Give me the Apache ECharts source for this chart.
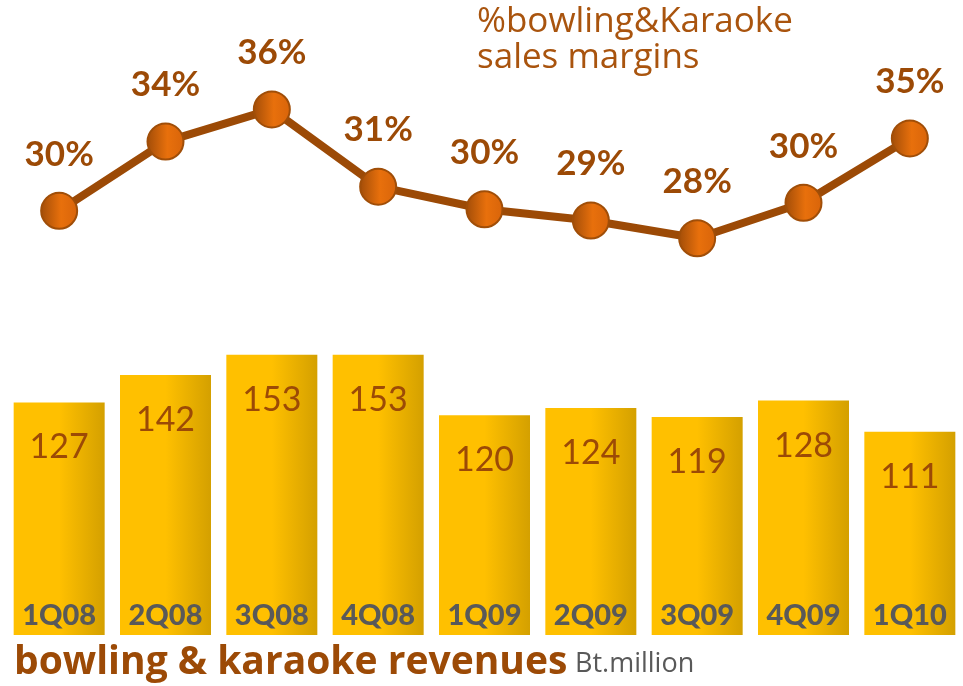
<!DOCTYPE html>
<html><head><meta charset="utf-8">
<script src="https://cdn.jsdelivr.net/npm/echarts@6/dist/echarts.min.js"></script>
<style>html,body{margin:0;padding:0;background:#fff}#c{width:963px;height:686px}</style>
</head><body><div id="c"></div>
<script>
const quarters = ['1Q08','2Q08','3Q08','4Q08','1Q09','2Q09','3Q09','4Q09','1Q10'];
const revenues = [127, 142, 153, 153, 120, 124, 119, 128, 111];
const marginPct = [29.7, 34.0, 36.0, 31.2, 29.8, 29.1, 28.0, 30.2, 34.2];
const marginLabels = ['30%','34%','36%','31%','30%','29%','28%','30%','35%'];
const titleTop = ['%bowling&Karaoke', 'sales margins'];
const titleBottom = 'bowling & karaoke revenues';
const unitText = 'Bt.million';

const FONT = 'Lato';
const FONT2 = '"Open Sans"';
const brown = '#9C4A06';
const chart = echarts.init(document.getElementById('c'));
chart.setOption({
  animation: false,
  grid: [
    {left: 6, right: -4, top: 342, height: 293},
    {left: 6, right: -4, top: 45, height: 322}
  ],
  xAxis: [
    {type: 'category', gridIndex: 0, data: quarters,
     axisLine: {show: false}, axisTick: {show: false},
     axisLabel: {inside: true, margin: 5, color: '#595959', fontFamily: FONT, fontWeight: 900, fontSize: 29},
     z: 10},
    {type: 'category', gridIndex: 1, data: quarters, show: false}
  ],
  yAxis: [
    {type: 'value', gridIndex: 0, min: 0, max: 160, show: false, splitLine: {show: false}},
    {type: 'value', gridIndex: 1, min: 20, max: 40, show: false, splitLine: {show: false}}
  ],
  series: [
    {type: 'bar', xAxisIndex: 0, yAxisIndex: 0, data: revenues, barWidth: 91,
     itemStyle: {color: new echarts.graphic.LinearGradient(0, 0, 1, 0, [
       {offset: 0, color: '#FFC000'}, {offset: 0.5, color: '#FFC000'}, {offset: 1, color: '#D4A000'}])},
     label: {show: true, position: 'insideTop', distance: 28, color: brown,
       fontFamily: FONT, fontSize: 34}},
    {type: 'line', xAxisIndex: 1, yAxisIndex: 1, data: marginPct,
     lineStyle: {color: brown, width: 8},
     symbol: 'circle', symbolSize: 36, showAllSymbol: true,
     itemStyle: {borderColor: '#A04E08', borderWidth: 2,
       color: new echarts.graphic.LinearGradient(0, 0, 1, 0, [
         {offset: 0, color: '#A04C08'}, {offset: 0.55, color: '#E8700C'}, {offset: 1, color: '#D8640A'}])},
     label: {show: true, position: 'top', distance: 20, color: brown,
       fontFamily: FONT, fontWeight: 'bold', fontSize: 35,
       formatter: p => marginLabels[p.dataIndex]}}
  ],
  graphic: [
    {type: 'text', left: 477, top: 4, style: {text: titleTop.join('\n'), fill: '#A9540E',
      font: '35px ' + FONT2, lineHeight: 36}},
    {type: 'text', left: 14, top: 643, style: {text: titleBottom, fill: brown,
      font: 'bold 39px ' + FONT2}},
    {type: 'text', left: 575, top: 651, style: {text: unitText, fill: '#595959',
      font: '27px ' + FONT2}}
  ]
});
</script></body></html>
